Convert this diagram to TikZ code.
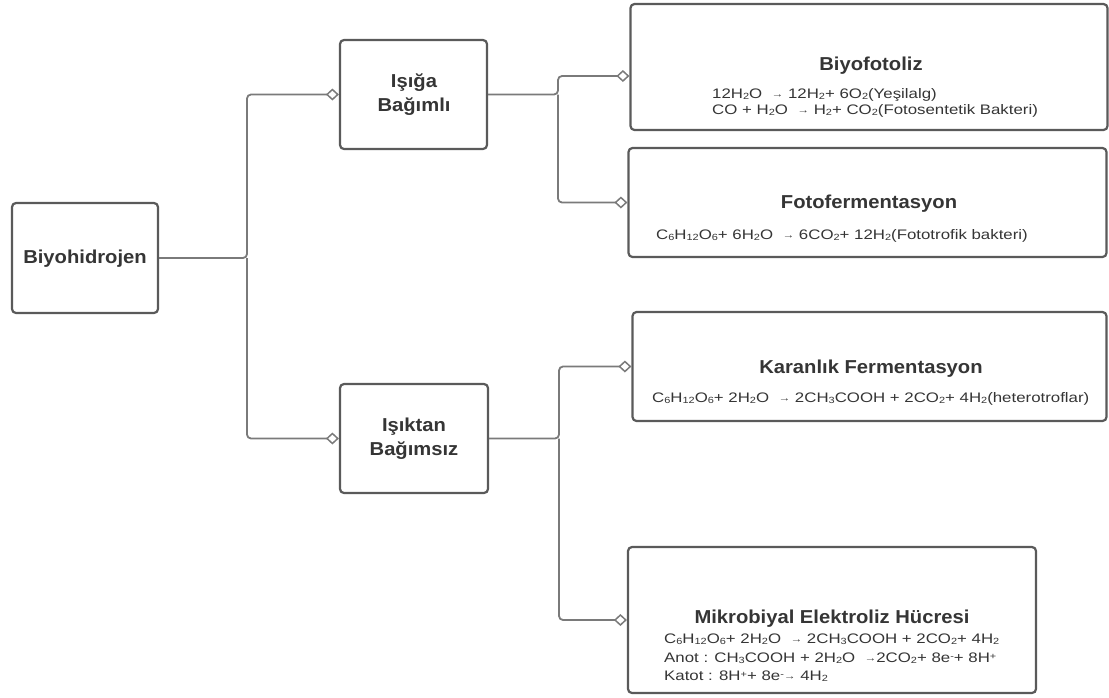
\documentclass[tikz,border=0pt]{standalone}
\usepackage{fontspec}
\setmainfont{Liberation Sans}
\newfontfamily\eqf{Liberation Sans}[FakeStretch=1.22]
\newfontfamily\ttf{Liberation Sans}[FakeStretch=1.08]
\usetikzlibrary{arrows.meta,calc}
\definecolor{boxc}{HTML}{5A5A5A}
\definecolor{linec}{HTML}{7A7A7A}
\definecolor{txtc}{HTML}{353535}
\newcommand\sbb[1]{\raisebox{-0.12em}{\scalebox{0.65}{#1}}}
\newcommand\spp[1]{\raisebox{0.2em}{\scalebox{0.65}{#1}}}
\newcommand\arr{\raisebox{0.05em}{\scalebox{0.7}{→}}}
\begin{document}
\begin{tikzpicture}[x=1pt,y=-1pt,
  box/.style={draw=boxc,line width=2.2pt,rounded corners=4pt,fill=white,inner sep=0pt},
  ttl/.style={text=txtc,inner sep=0pt,anchor=base,font=\fontsize{18.7}{23}\ttf\bfseries},
  eqt/.style={text=txtc,inner sep=0pt,anchor=base west,font=\fontsize{13.8}{16}\eqf},
  conn/.style={draw=linec,line width=1.8pt,rounded corners=4pt,
    -{Diamond[open,length=13pt,width=12pt,line width=1.5pt]}}]
\useasboundingbox (0,0) rectangle (1109,697);
% boxes
\node[box,minimum width=146pt,minimum height=110pt] (bh) at (85,258) {};
\node[box,minimum width=147pt,minimum height=109pt] (isg) at (413.5,94.5) {};
\node[box,minimum width=148pt,minimum height=109pt] (isk) at (414,438.5) {};
\node[box,minimum width=477pt,minimum height=126pt] (bf) at (869,67) {};
\node[box,minimum width=478pt,minimum height=109pt] (ff) at (867.5,202.5) {};
\node[box,minimum width=474pt,minimum height=109pt] (kf) at (869.5,366.5) {};
\node[box,minimum width=408pt,minimum height=146pt] (mb) at (832,620) {};
% titles
\node[ttl] (bht) at (85,263) {Biyohidrojen};
\node[ttl] (isg1) at (414,87) {Işığa};
\node[ttl] (isg2) at (414,111) {Bağımlı};
\node[ttl] (isk1) at (414,431) {Işıktan};
\node[ttl] (isk2) at (414,455) {Bağımsız};
\node[ttl] (bft) at (871,70) {Biyofotoliz};
\node[ttl] (fft) at (869,208) {Fotofermentasyon};
\node[ttl] (kft) at (871,373) {Karanlık Fermentasyon};
\node[ttl] (mbt) at (832,623) {Mikrobiyal Elektroliz Hücresi};
% equations
\node[eqt] (bf1) at (712,98) {12H\sbb{2}O \ \arr\ 12H\sbb{2}+ 6O\sbb{2}(Yeşilalg)};
\node[eqt] (bf2) at (712,114) {CO + H\sbb{2}O \ \arr\ H\sbb{2}+ CO\sbb{2}(Fotosentetik Bakteri)};
\node[eqt] (ff1) at (656,239) {C\sbb{6}H\sbb{12}O\sbb{6}+ 6H\sbb{2}O \ \arr\ 6CO\sbb{2}+ 12H\sbb{2}(Fototrofik bakteri)};
\node[eqt] (kf1) at (652,402) {C\sbb{6}H\sbb{12}O\sbb{6}+ 2H\sbb{2}O \ \arr\ 2CH\sbb{3}COOH + 2CO\sbb{2}+ 4H\sbb{2}(heterotroflar)};
\node[eqt] (mb1) at (664,643) {C\sbb{6}H\sbb{12}O\sbb{6}+ 2H\sbb{2}O \ \arr\ 2CH\sbb{3}COOH + 2CO\sbb{2}+ 4H\sbb{2}};
\node[eqt] (mb2) at (664,662) {Anot : CH\sbb{3}COOH + 2H\sbb{2}O \ \arr2CO\sbb{2}+ 8e\spp{-}+ 8H\spp{+}};
\node[eqt] (mb3) at (664,680) {Katot : 8H\spp{+}+ 8e\spp{-}\arr\ 4H\sbb{2}};
% connectors
\coordinate (j1) at (247,258);
\coordinate (j2) at (558,94.5);
\coordinate (j3) at (559,438.5);
\draw[conn] (bh.east) -- (j1) |- (isg.west);
\draw[conn] (j1) |- (isk.west);
\draw[conn] (isg.east) -- (j2) |- ($(bf.west)+(0,9)$);
\draw[conn] (j2) |- (ff.west);
\draw[conn] (isk.east) -- (j3) |- (kf.west);
\draw[conn] (j3) |- (mb.west);
\end{tikzpicture}
\end{document}
